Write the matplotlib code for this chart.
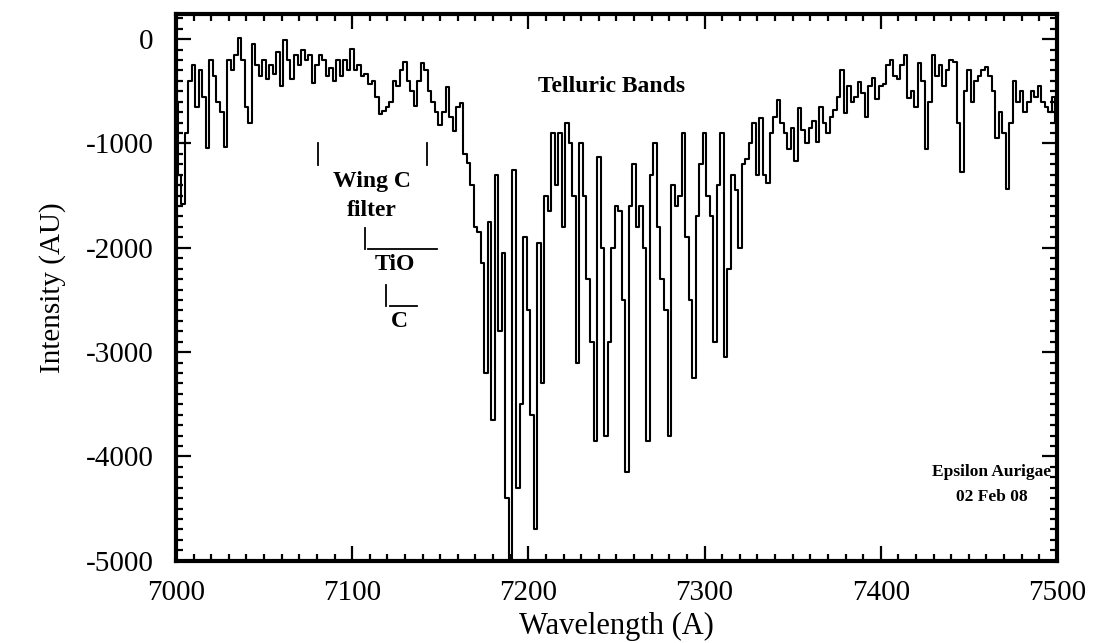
import matplotlib
matplotlib.use("Agg")
import matplotlib.pyplot as plt
from matplotlib.ticker import MultipleLocator
import numpy as np

# spectrum sampled every 2 A from 7000 to 7500
wl_start = 7000
wl_step = 2
intensity = [
    -600, -1300, -1580, -900, -400, -250, -650, -300, -550, -1040,
    -200, -350, -600, -700, -1030, -200, -300, -150, 10, -200,
    -650, -800, -50, -250, -350, -200, -380, -250, -330, -120,
    -450, -10, -200, -380, -150, -250, -100, -200, -150, -420,
    -250, -150, -200, -350, -280, -400, -200, -350, -200, -300,
    -90, -300, -250, -350, -330, -430, -400, -550, -720, -690,
    -650, -600, -400, -450, -300, -220, -400, -500, -640, -400,
    -230, -300, -500, -600, -700, -820, -700, -460, -750, -880,
    -650, -610, -1100, -1190, -1400, -1800, -1850, -2150, -3200, -1750,
    -3650, -1300, -2800, -2050, -4400, -5000, -1250, -4300, -3500, -1900,
    -2600, -3600, -4700, -1950, -3300, -1500, -1650, -900, -1400, -900,
    -1800, -800, -1000, -1500, -3100, -1000, -1500, -2300, -2900, -3850,
    -1130, -2000, -3800, -2900, -2000, -1600, -1650, -2500, -4150, -1600,
    -1200, -1800, -1600, -2000, -3850, -1300, -1000, -1800, -2300, -2600,
    -3800, -1400, -1600, -1500, -900, -1900, -2500, -3250, -1700, -1200,
    -900, -1500, -1700, -2900, -1400, -900, -3050, -2200, -1300, -1450,
    -2000, -1200, -1150, -1000, -800, -1300, -760, -1300, -1380, -900,
    -750, -580, -800, -900, -1050, -850, -1170, -660, -870, -1000,
    -850, -780, -990, -650, -800, -900, -750, -680, -550, -300,
    -710, -450, -600, -550, -410, -520, -750, -450, -370, -570,
    -450, -430, -250, -200, -350, -380, -250, -150, -560, -500,
    -650, -230, -400, -1050, -600, -150, -350, -250, -450, -300,
    -200, -220, -800, -1270, -500, -300, -600, -400, -350, -300,
    -270, -350, -500, -950, -700, -900, -1440, -800, -400, -600,
    -500, -700, -600, -500, -550, -450, -600, -650, -700, -550,
    -800, -750,
]
wavelength = wl_start + wl_step * np.arange(len(intensity))

serif = ["Liberation Serif", "DejaVu Serif"]
plt.rcParams["axes.unicode_minus"] = False

fig = plt.figure(figsize=(10.93, 6.43), dpi=100)
ax = fig.add_axes([0.161, 0.128, 0.806, 0.85])

ax.plot(wavelength, intensity, color="black", lw=1.5, drawstyle="steps-mid")

ax.set_xlim(7000, 7500)
ax.set_ylim(-5000, 240)

ax.xaxis.set_major_locator(MultipleLocator(100))
ax.xaxis.set_minor_locator(MultipleLocator(10))
ax.yaxis.set_major_locator(MultipleLocator(1000))
ax.yaxis.set_minor_locator(MultipleLocator(100))
ax.tick_params(which="both", direction="in", top=True, right=True, width=1.6, color="black")
ax.tick_params(which="major", length=11, labelsize=21)
ax.tick_params(which="minor", length=5)
ax.tick_params(axis="x", which="major", pad=14)
ax.tick_params(axis="y", which="major", pad=16)
for lab in ax.get_xticklabels() + ax.get_yticklabels():
    lab.set_family(serif)
for sp in ax.spines.values():
    sp.set_linewidth(3)

ax.set_xlabel("Wavelength (A)", family=serif, fontsize=22, labelpad=4)
ax.set_ylabel("Intensity (AU)", family=serif, fontsize=21, labelpad=14)

bold = dict(family=serif, fontsize=17, fontweight="bold", ha="center", va="center")
ax.text(7247, -450, "Telluric Bands", **bold)
ax.text(7111, -1360, "Wing C", **bold)
ax.text(7111, -1640, "filter", **bold)
ax.text(7124, -2165, "TiO", **bold)
ax.text(7127, -2710, "C", **bold)
small = dict(bold, fontsize=12.5)
ax.text(7463, -4150, "Epsilon Aurigae", **small)
ax.text(7463, -4390, "02 Feb 08", **small)

# filter / band markers
mk = dict(color="black", lw=1.3)
ax.plot([7080.5, 7080.5], [-1000, -1210], **mk)
ax.plot([7142.3, 7142.3], [-1000, -1210], **mk)
ax.plot([7107.3, 7107.3], [-1810, -2010], **mk)
ax.plot([7109, 7148], [-2010, -2010], **mk)
ax.plot([7119.2, 7119.2], [-2360, -2560], **mk)
ax.plot([7121.5, 7137], [-2560, -2560], **mk)

fig.savefig("out.png", dpi=100)
